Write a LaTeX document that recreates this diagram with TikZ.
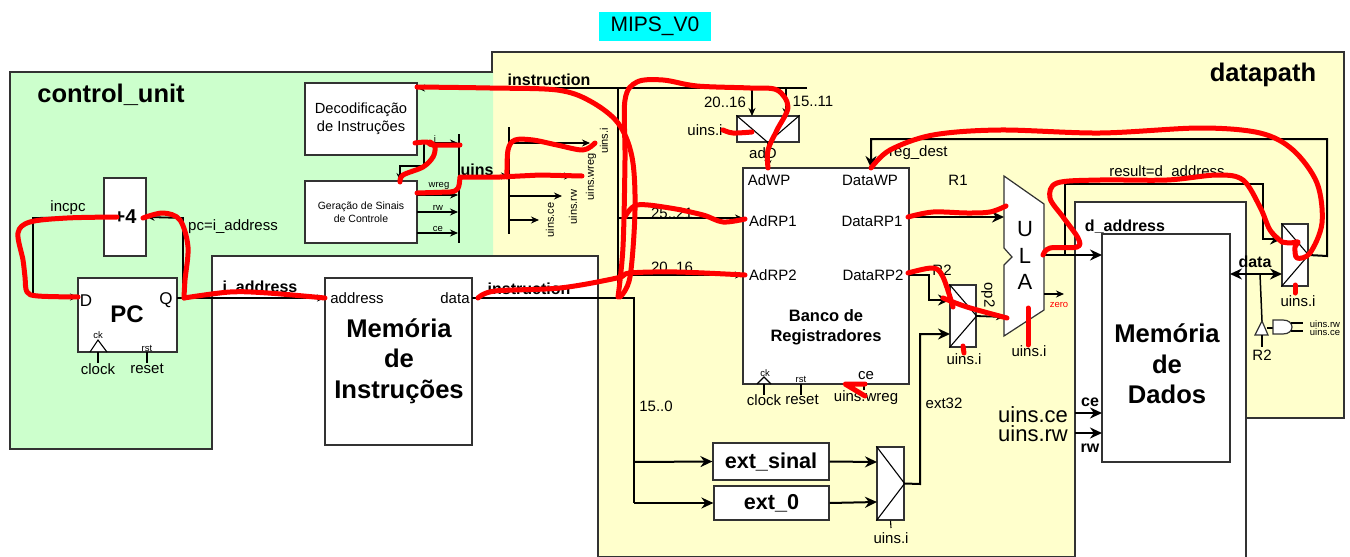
\documentclass[tikz,border=0pt]{standalone}
\usepackage{fontspec}
\setmainfont{Liberation Sans}
\usetikzlibrary{arrows.meta}
\definecolor{fillgreen}{RGB}{204, 255, 204}
\definecolor{fillyellow}{RGB}{255, 255, 204}
\definecolor{fillcyan}{RGB}{0, 255, 255}
\definecolor{penred}{RGB}{255, 0, 0}
\definecolor{edgegray}{RGB}{50, 50, 50}
\tikzset{
  % Blocos
  box/.style      = {draw=edgegray, fill=white, line width=1.2pt, inner sep=0pt},
  zone/.style     = {draw=edgegray, line width=1.2pt},
  % Fios
  sig/.style      = {-{Stealth[length=8pt,width=7pt]}, line width=1.1pt, black},
  bus/.style      = {-{Stealth[length=12pt,width=11pt]}, line width=2pt, black},
  plainsig/.style = {line width=1.1pt, black},
  plainbus/.style = {line width=2pt, black},
  % Etiquetas
  lab/.style      = {inner sep=0pt, font=\fontsize{15}{15}\selectfont},
  labsmall/.style = {inner sep=0pt, font=\fontsize{9.5}{10}\selectfont},
  labrot/.style   = {inner sep=0pt, rotate=90, font=\fontsize{11}{11}\selectfont},
  labbold/.style  = {inner sep=0pt, font=\fontsize{16}{16}\selectfont\bfseries},
  labbig/.style   = {inner sep=0pt, font=\fontsize{25.6}{30.5}\selectfont\bfseries, align=center},
  labhead/.style  = {inner sep=0pt, font=\fontsize{25.5}{25.5}\selectfont\bfseries},
  % Marcas a mao
  scrib/.style    = {penred, line width=5pt, line cap=round, line join=round},
}
\begin{document}
\begin{tikzpicture}[x=1pt,y=-1pt]
  \useasboundingbox (0,0) rectangle (1350,557);
  % Areas de fundo
  \fill[white] (0,0) rectangle (1350,557);
  \draw[zone, fill=fillyellow] (492,52) -- (1344,52) -- (1344,418) -- (1246,418) -- (1246,202)
    -- (1075,202) -- (1075,557) -- (598,557) -- (598,256) -- (492,256) -- cycle;
  \fill[fillgreen] (10,72) -- (493,72) -- (493,256) -- (212,256) -- (212,449) -- (10,449) -- cycle;
  \draw[zone] (493,72) -- (10,72) -- (10,449) -- (212,449) -- (212,256) -- (598,256);
  \node[fill=fillcyan, minimum width=112pt, minimum height=29pt, inner sep=0pt, font=\fontsize{21}{21}\selectfont] (title) at (655,26.5) {MIPS\_V0};
  \node[labhead] (ctrlName) at (111,95) {control\_unit};
  \node[labhead] (dpName) at (1263,75) {datapath};
  % Blocos principais
  \node[box, minimum width=112pt, minimum height=72pt, align=center, font=\fontsize{14.7}{18}\selectfont] (decod) at (361,119) {Decodificação\\de Instruções};
  \node[box, minimum width=112pt, minimum height=62pt, align=center, font=\fontsize{10.5}{13}\selectfont] (gerac) at (361,212) {Geração de Sinais\\de Controle};
  \node[box, minimum width=42pt, minimum height=78pt, font=\fontsize{20}{20}\selectfont\bfseries] (plusfour) at (125,217) {+4};
  \node[box, minimum width=99pt, minimum height=74pt, font=\fontsize{24}{24}\selectfont\bfseries] (pcreg) at (127.5,315) {};
  \node[box, minimum width=147pt, minimum height=167pt] (memInstr) at (398.5,361.5) {};
  \node[box, minimum width=166pt, minimum height=216pt] (regBank) at (826,276) {};
  \node[box, minimum width=116pt, minimum height=37pt, font=\fontsize{21.6}{21.6}\selectfont\bfseries] (extSinal) at (771,461.5) {ext\_sinal};
  \node[box, minimum width=115pt, minimum height=34pt, font=\fontsize{21.6}{21.6}\selectfont\bfseries] (extZero) at (771.5,503) {ext\_0};
  \node[box, minimum width=171pt, minimum height=360pt] (dataOuter) at (1160.5,382) {};
  \node[box, minimum width=128pt, minimum height=228pt] (memData) at (1166,348) {};
  % Muxes
  \node[box, minimum width=62pt, minimum height=26pt] (muxAd) at (768,129) {};
  \node[box, minimum width=26pt, minimum height=62pt] (muxOp) at (963,316) {};
  \node[box, minimum width=26pt, minimum height=62pt] (muxRes) at (1295,255) {};
  \node[box, minimum width=27pt, minimum height=73pt] (muxExt) at (890.5,483.5) {};
  \draw[plainsig] (muxAd.north west) -- (muxAd.south) -- (muxAd.north east);
  \draw[plainsig] (muxOp.north west) -- (muxOp.east) -- (muxOp.south west);
  \draw[plainsig] (muxRes.north west) -- (muxRes.east) -- (muxRes.south west);
  \draw[plainsig] (muxExt.north west) -- (muxExt.east) -- (muxExt.south west);
  % ULA
  \draw[box] (1004,176) -- (1044,204) -- (1044,310) -- (1004,336) -- (1004,265) -- (1012,257) -- (1004,248) -- cycle;
  \node[inner sep=0pt, font=\fontsize{22}{22}\selectfont] (ulaU) at (1025,229) {U};
  \node[inner sep=0pt, font=\fontsize{22}{22}\selectfont] (ulaL) at (1025,256) {L};
  \node[inner sep=0pt, font=\fontsize{22}{22}\selectfont] (ulaA) at (1025,282) {A};
  % Pontos de ligacao
  \coordinate (ulaIn1) at (1004,217);
  \coordinate (ulaIn2) at (1004,317);
  \coordinate (ulaOut) at (1044,255);
  \coordinate (ulaZero) at (1044,294);
  \coordinate (zeroEnd) at (1064,294);
  \coordinate (pcD) at (78,297);
  \coordinate (pcQ) at (177,298);
  \coordinate (memAddr) at (325,298);
  \coordinate (memOut) at (472,298);
  \coordinate (barA) at (459,176);
  \coordinate (barB) at (509,176);
  % Contador de programa
  \draw[sig, line width=1.8pt] (plusfour.west) -- (33,218) -- (33,297) -- (pcD);
  \draw[sig, line width=1.8pt] (pcQ) -- (183,298) -- (183,218) -- (plusfour.east);
  \draw[sig] (pcQ) -- (memAddr);
  % Barramento de instrucao
  \draw[plainbus] (memOut) -- (634,298) -- (634,503);
  \draw[bus] (634,462) -- (extSinal.west);
  \draw[bus] (634,503) -- (extZero.west);
  \draw[plainbus] (618,298) -- (618,88);
  \draw[sig, line width=1.8pt] (807,88) -- (417,88);
  \draw[sig] (618,218) -- (743,218);
  \draw[sig] (618,275) -- (743,275);
  \draw[sig] (752,88) -- (752,116);
  \draw[sig] (786,88) -- (786,116);
  \draw[sig] (muxAd.south) -- (768,168);
  % Sinais de controle
  \draw[plainsig] (459,134) -- (459,243);
  \draw[plainsig] (509,127) -- (509,234);
  \draw[sig] (417,143) -- (458,143);
  \draw[sig] (417,195) -- (458,195);
  \draw[sig] (417,212) -- (458,212);
  \draw[sig] (417,233) -- (458,233);
  \draw[sig] (424,143) -- (424,166) -- (400,166) -- (400,181);
  \draw[sig] (barA) -- (barB);
  \draw[sig] (509,143) -- (590,143);
  \draw[sig] (509,176) -- (572,176);
  \draw[sig] (509,196) -- (562,196);
  \draw[sig] (509,220) -- (539,220);
  % Caminho de dados
  \draw[bus] (909,217) -- (ulaIn1);
  \draw[bus] (909,275) -- (929,275) -- (929,300) -- (950,300);
  \draw[bus] (muxExt.east) -- (920,484) -- (920,334) -- (950,334);
  \draw[sig, line width=1.8pt] (muxOp.east) -- (ulaIn2);
  \draw[bus] (ulaOut) -- (1102,255);
  \draw[bus] (1065,255) -- (1065,184) -- (1263,184) -- (1263,239) -- (1282,239);
  \draw[bus] (muxRes.east) -- (1327,256) -- (1327,139) -- (871,139) -- (871,168);
  \draw[sig, line width=1.4pt] (ulaZero) -- (zeroEnd);
  \draw[bus, {Stealth[length=12pt,width=11pt]}-{Stealth[length=12pt,width=11pt]}] (1230,274) -- (1282,274);
  \draw[bus] (1075,413) -- (1102,413);
  \draw[bus] (1075,433) -- (1102,433);
  \draw[bus] (extSinal.east) -- (877,462);
  \draw[bus] (extZero.east) -- (877,502);
  \draw[plainsig] (muxExt.south) -- (891,528);
  \draw[plainsig, line width=1.5pt] (1260,274) -- (1262,321);
  % Tristate e porta
  \draw[box] (1262,321) -- (1268,335) -- (1255,335) -- cycle;
  \draw[plainsig, line width=1.5pt] (1262,335) -- (1262,347);
  \draw[plainsig] (1267,328) -- (1273,328);
  \draw[box] (1273,320) -- (1283,320) .. controls (1295,320) and (1295,334) .. (1283,334) -- (1273,334) -- cycle;
  \draw[plainsig] (1291,323) -- (1303,323);
  \draw[plainsig] (1291,331) -- (1303,331);
  % Clock e reset
  \draw[plainsig] (90,352) -- (98,340) -- (107,352);
  \draw[plainsig] (98,352) -- (98,363);
  \draw[plainsig] (147,352) -- (147,363);
  \draw[plainsig] (757,384) -- (764,377) -- (771,384);
  \draw[plainsig] (764,384) -- (764,395);
  \draw[plainsig] (801,384) -- (801,395);
  \draw[plainsig] (864,384) -- (864,390);
  % Textos do controle
  \node[lab] (lbIncpc) at (68,208) {incpc};
  \node[lab] (lbPc) at (233,227) {pc=i\_address};
  \node[labsmall] (lbI) at (435,139) {i};
  \node[labsmall] (lbWreg) at (439,186) {wreg};
  \node[labsmall] (lbRw) at (438,208) {rw};
  \node[labsmall] (lbCe) at (438,229) {ce};
  \node[labbold] (lbUins) at (477,170) {uins};
  \node[labrot] (rotI) at (604,141) {uins.i};
  \node[labrot] (rotWreg) at (591,177) {uins.wreg};
  \node[labrot] (rotRw) at (573,207) {uins.rw};
  \node[labrot] (rotCe) at (550,220) {uins.ce};
  % Textos do PC e memoria
  \node[inner sep=0pt, font=\fontsize{17}{17}\selectfont] (lbD) at (86,301) {D};
  \node[inner sep=0pt, font=\fontsize{17}{17}\selectfont] (lbQ) at (166,300) {Q};
  \node[inner sep=0pt, font=\fontsize{24}{24}\selectfont\bfseries] (lbPcName) at (127,314) {PC};
  \node[labsmall] (lbCk) at (98,335) {ck};
  \node[labsmall] (lbRst) at (147,348) {rst};
  \node[lab] (lbClock) at (98,369) {clock};
  \node[lab] (lbReset) at (147,369) {reset};
  \node[labbold] (lbIaddr) at (260,288) {i\_address};
  \node[lab] (lbAddress) at (357,298) {address};
  \node[lab] (lbData) at (455,298) {data};
  \node[labbig] (lbMemI) at (399,361) {Memória\\de\\Instruções};
  \node[labbold] (lbInstrB) at (529,289) {instruction};
  \node[labbold] (lbInstrT) at (549,80) {instruction};
  % Textos do banco
  \node[lab] (lb2016a) at (725,102) {20..16};
  \node[lab] (lb1511) at (813,101) {15..11};
  \node[lab] (lbMuxI) at (705,130) {uins.i};
  \node[lab] (lbAdD) at (763,153) {adD};
  \node[lab] (lb2521) at (672,213) {25..21};
  \node[lab] (lb2016b) at (672,267) {20..16};
  \node[lab] (lbAdWP) at (769,180) {AdWP};
  \node[lab] (lbDataWP) at (870,180) {DataWP};
  \node[lab] (lbAdRP1) at (773,221) {AdRP1};
  \node[lab] (lbDataRP1) at (872,221) {DataRP1};
  \node[lab] (lbAdRP2) at (773,275) {AdRP2};
  \node[lab] (lbDataRP2) at (873,275) {DataRP2};
  \node[inner sep=0pt, align=center, font=\fontsize{16.5}{20}\selectfont\bfseries] (lbBank) at (826,327) {Banco de\\Registradores};
  \node[labsmall] (lbCkR) at (765,373) {ck};
  \node[labsmall] (lbRstR) at (801,379) {rst};
  \node[lab] (lbClockR) at (764,400) {clock};
  \node[lab] (lbResetR) at (802,400) {reset};
  \node[lab] (lbCeR) at (866,376) {ce};
  \node[lab] (lbWregR) at (866,398) {uins.wreg};
  \node[lab] (lb150) at (656,406) {15..0};
  \node[lab] (lbExt32) at (944,403) {ext32};
  \node[lab] (lbExtI) at (891,538) {uins.i};
  % Textos da ULA e memoria de dados
  \node[lab, anchor=west] (lbRegDest) at (889,153) {reg\_dest};
  \node[lab] (lbR1) at (958,180) {R1};
  \node[lab] (lbR2) at (942,270) {R2};
  \node[lab, rotate=-90] (lbOp2) at (988,295) {op2};
  \node[lab] (lbOpI) at (964,359) {uins.i};
  \node[lab] (lbUlaI) at (1029,351) {uins.i};
  \node[inner sep=0pt, text=penred, font=\fontsize{9.5}{10}\selectfont] (lbZero) at (1059,305) {zero};
  \node[lab] (lbResult) at (1167,173) {result=d\_address};
  \node[labbold] (lbDaddr) at (1125,227) {d\_address};
  \node[labbig] (lbMemD) at (1167,364) {Memória\\de\\Dados};
  \node[labbold] (lbCeB) at (1090,402) {ce};
  \node[labbold] (lbRwB) at (1090,448) {rw};
  \node[inner sep=0pt, font=\fontsize{22}{22}\selectfont] (lbUinsCe) at (1033,415) {uins.ce};
  \node[inner sep=0pt, font=\fontsize{22}{22}\selectfont] (lbUinsRw) at (1033,434) {uins.rw};
  \node[labbold] (lbDataB) at (1255,262) {data};
  \node[lab] (lbResI) at (1298,301) {uins.i};
  \node[lab] (lbR2b) at (1262,355) {R2};
  \node[labsmall] (lbGateRw) at (1325,324) {uins.rw};
  \node[labsmall] (lbGateCe) at (1325,332) {uins.ce};
  % Marcas vermelhas
  \draw[scrib] plot[smooth, tension=0.55] coordinates {(417,87) (490,88) (557,90) (590,101) (618,123) (632,157) (635,210) (630,277) (620,297)};
  \draw[scrib] plot[smooth, tension=0.55] coordinates {(618,297) (623,247) (625,160) (625,100) (637,82) (663,80) (697,86) (750,88) (777,90) (788,107) (777,130) (768,150) (768,168)};
  \draw[scrib] plot[smooth, tension=0.55] coordinates {(625,217) (637,205) (670,208) (703,215) (723,222) (745,219)};
  \draw[scrib] plot[smooth, tension=0.55] coordinates {(478,298) (495,291) (560,288) (617,278) (630,273) (677,272) (745,275)};
  \draw[scrib] plot[smooth, tension=0.55] coordinates {(143,218) (163,213) (180,220) (188,247) (185,280) (184,298)};
  \draw[scrib] plot[smooth, tension=0.55] coordinates {(184,298) (230,292) (268,293) (325,298)};
  \draw[scrib] plot[smooth, tension=0.55] coordinates {(117,217) (67,218) (30,222) (18,233) (23,260) (25,277) (27,292) (38,296) (78,297)};
  \draw[scrib] plot[smooth, tension=0.55] coordinates {(415,143) (427,142) (433,145) (460,145)};
  \draw[scrib] plot[smooth, tension=0.55] coordinates {(400,182) (403,175) (423,167) (433,157) (435,147) (430,142)};
  \draw[scrib] (417,193) -- (450,192) .. controls (459,191) and (459,188) .. (460,177) -- (500,177) -- (540,175) -- (582,176);
  \draw[scrib] plot[smooth, tension=0.55] coordinates {(507,177) (508,150) (515,140) (533,140) (557,145) (583,150) (595,143)};
  \draw[scrib] plot[smooth, tension=0.55] coordinates {(723,130) (733,133) (752,132)};
  \draw[scrib] plot[smooth, tension=0.55] coordinates {(871,168) (890,150) (933,135) (1000,130) (1100,133) (1200,128) (1260,133) (1293,150) (1317,183) (1322,223) (1310,253) (1297,258) (1295,247) (1298,242) (1290,243) (1282,242)};
  \draw[scrib] plot[smooth, tension=0.55] coordinates {(1043,255) (1050,248) (1077,247) (1078,238) (1063,217) (1050,198) (1057,183) (1100,180) (1167,180) (1217,175) (1243,180) (1260,207) (1270,230) (1282,242)};
  \draw[scrib] plot[smooth, tension=0.55] coordinates {(908,217) (933,212) (967,213) (990,212) (1006,206)};
  \draw[scrib] plot[smooth, tension=0.55] coordinates {(908,273) (933,268) (943,277) (953,307)};
  \draw[scrib] plot[smooth, tension=0.55] coordinates {(943,298) (967,307) (1007,318)};
  \draw[scrib] (1028,308) -- (1028,345);
  \draw[scrib] (963,346) -- (964,353);
  \draw[scrib] (1295,285) -- (1295,293);
  \draw[scrib] (865,384) -- (845,384) -- (865,396);
\end{tikzpicture}
\end{document}
